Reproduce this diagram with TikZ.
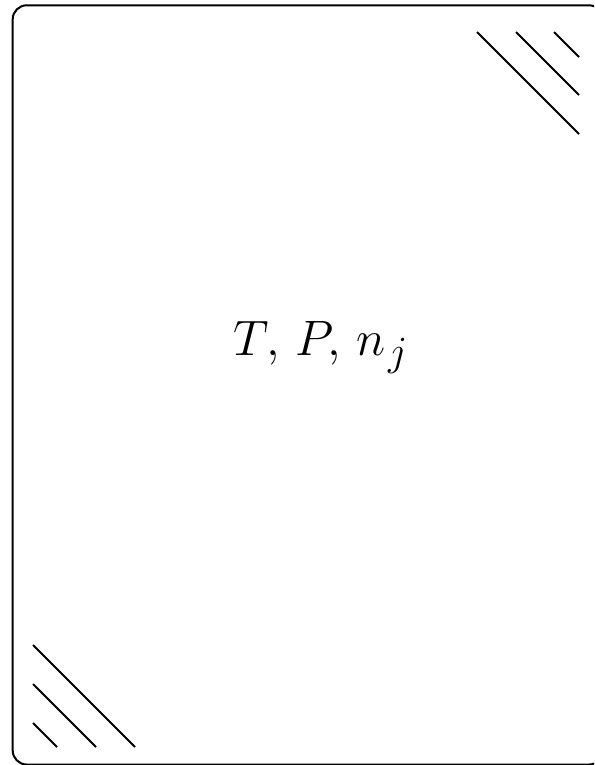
\documentclass[tikz,border=0pt]{standalone}
\begin{document}
\begin{tikzpicture}[x=0.5pt,y=-0.5pt,line width=1pt]
    \useasboundingbox (0,0) rectangle (594,765);
    \clip (0,0) rectangle (594,765);
    \draw[rounded corners=7pt] (12.7,5.3) rectangle (603,764.5);
    \foreach \s in {477,516,554}
      \draw (\s,32) -- (579,{32+579-\s});
    \foreach \s in {645,684,723}
      \draw (33,\s) -- ({33+747-\s},747);
    \node (state) at (321,348) {\fontsize{27.6}{33}\selectfont
      $T,\mskip2.5mu P,\mskip2.5mu n_{\mskip1mu j}$};
  \end{tikzpicture}
\end{document}
